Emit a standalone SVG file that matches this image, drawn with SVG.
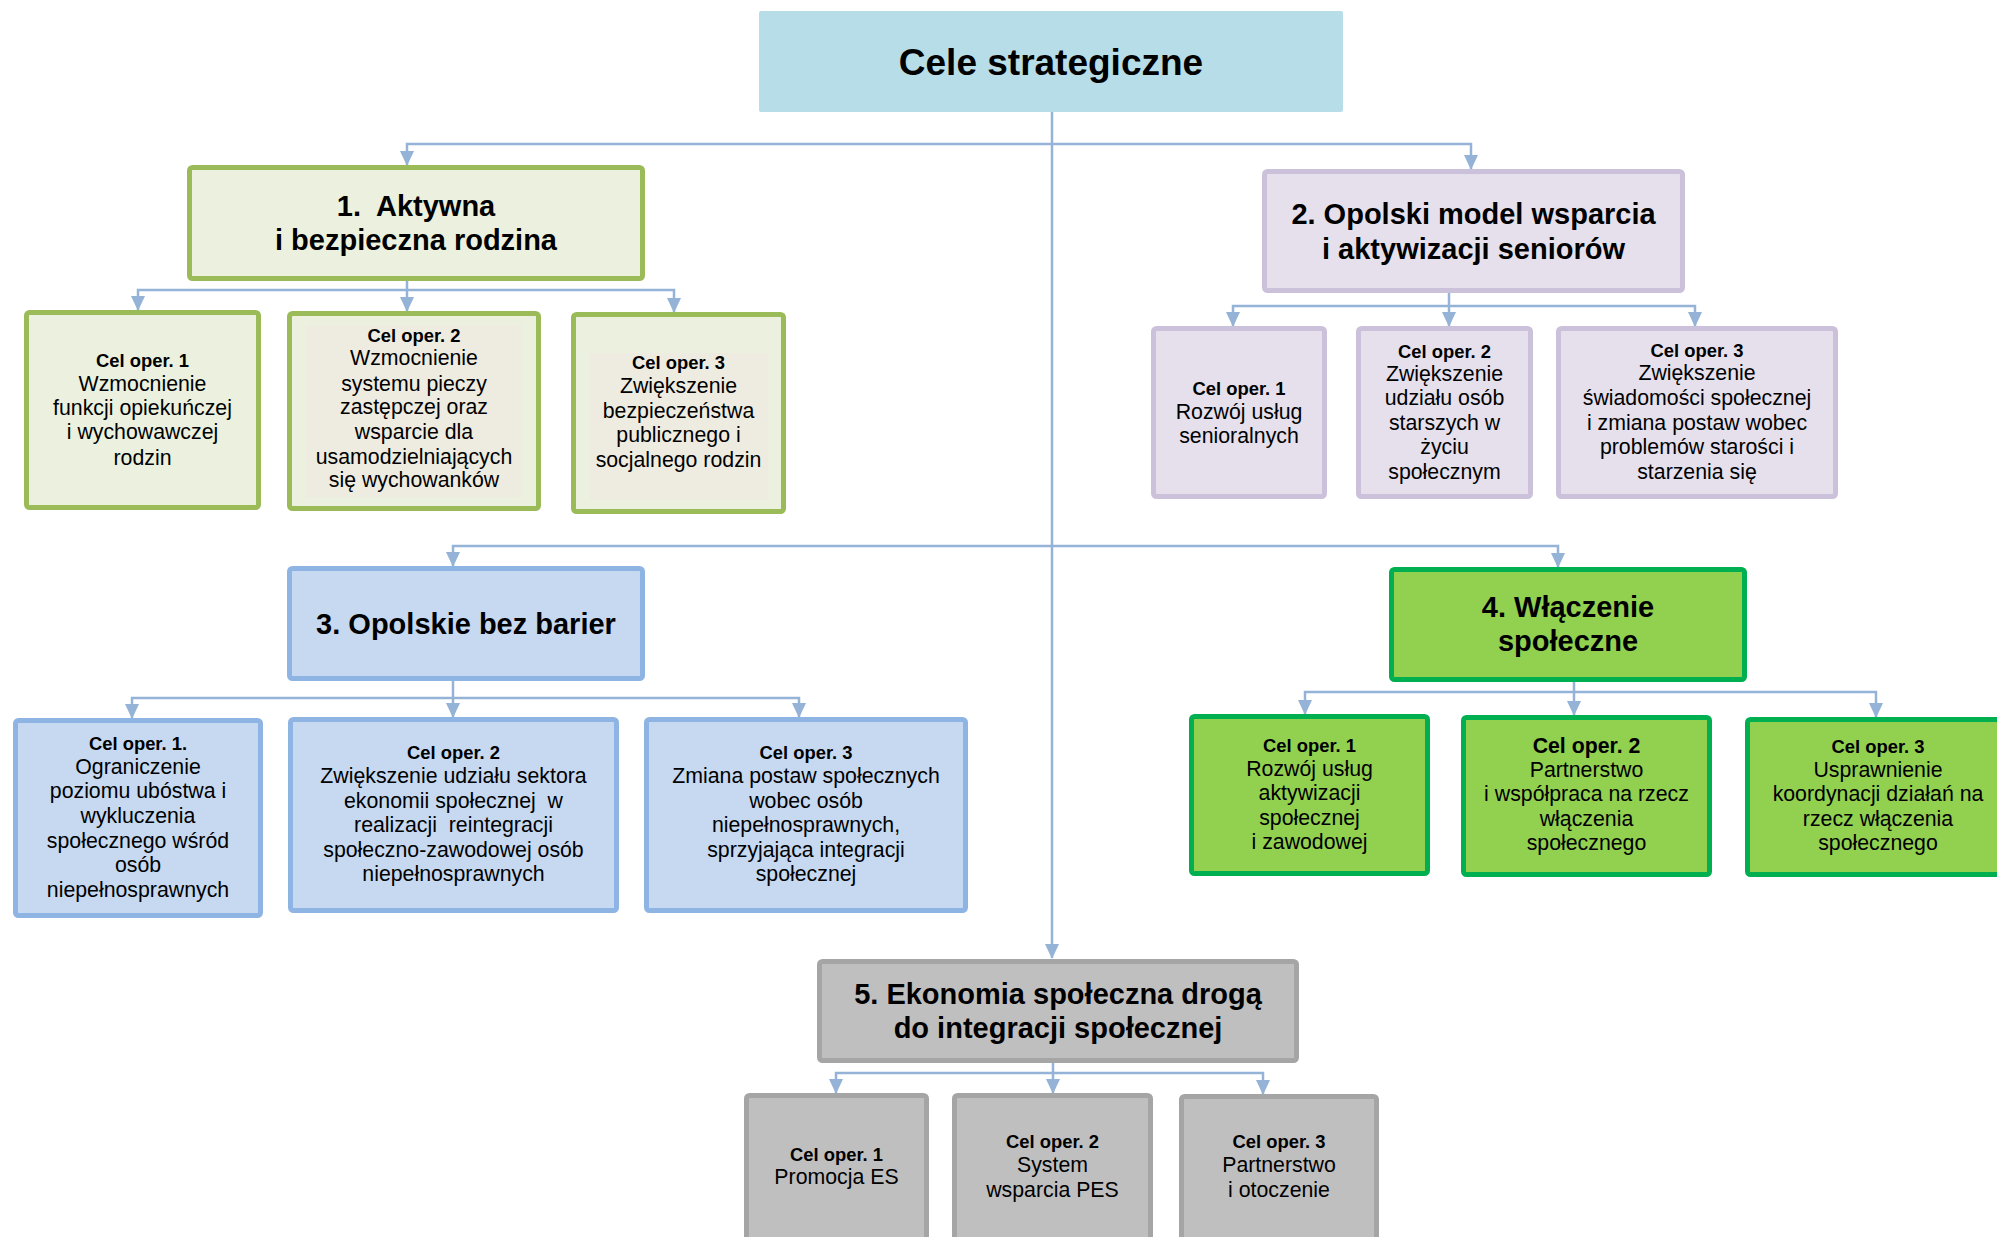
<svg xmlns="http://www.w3.org/2000/svg" width="1997" height="1237" viewBox="0 0 1997 1237">
<defs>
<style>
text{font-family:"Liberation Sans",Arial,sans-serif;fill:#000;text-anchor:middle}
.t0{font-size:37px;font-weight:bold}
.t1{font-size:29px;font-weight:bold}
.b{font-size:18.4px;font-weight:bold}
.bb{font-size:21.3px;font-weight:bold}
.r{font-size:21.3px}
.grn rect.o{fill:#ebf1de;stroke:#9bbb59;stroke-width:5}
.pur rect.o{fill:#e5e0ec;stroke:#ccc1da;stroke-width:5}
.blu rect.o{fill:#c6d9f1;stroke:#8eb4e3;stroke-width:5}
.lim rect.o{fill:#92d050;stroke:#00b050;stroke-width:5}
.gry rect.o{fill:#bfbfbf;stroke:#a5a5a5;stroke-width:5}
.inner{fill:#eeece1}
.c{fill:none;stroke:#95b3d7;stroke-width:2.5;marker-end:url(#ah)}
</style>
<marker id="ah" markerUnits="userSpaceOnUse" markerWidth="15" markerHeight="14" refX="14" refY="7" orient="auto" viewBox="0 0 15 14">
<path d="M0,0 L15,7 L0,14 z" fill="#95b3d7"/>
</marker>
</defs>

<g id="connectors">
<path class="c" d="M1052,112 V958"/>
<path class="c" d="M1052,144 H407 V165"/>
<path class="c" d="M1052,144 H1471 V169"/>
<path class="c" d="M1052,546 H453 V566"/>
<path class="c" d="M1052,546 H1558 V567"/>
<path class="c" d="M407,281 V311"/>
<path class="c" d="M407,290 H138 V310"/>
<path class="c" d="M407,290 H674 V312"/>
<path class="c" d="M1449,293 V326"/>
<path class="c" d="M1449,306 H1233 V326"/>
<path class="c" d="M1449,306 H1695 V326"/>
<path class="c" d="M453,681 V717"/>
<path class="c" d="M453,698 H132 V718"/>
<path class="c" d="M453,698 H799 V717"/>
<path class="c" d="M1574,682 V715"/>
<path class="c" d="M1574,692 H1305 V714"/>
<path class="c" d="M1574,692 H1876 V717"/>
<path class="c" d="M1053,1063 V1093"/>
<path class="c" d="M1053,1073 H836 V1093"/>
<path class="c" d="M1053,1073 H1263 V1094"/>
</g>

<g id="top">
<rect x="759" y="11" width="584" height="101" rx="2" fill="#b7dde8"/>
<text class="t0" x="1051" y="75">Cele strategiczne</text>
</g>

<g id="goal1" class="grn">
<rect class="o" x="189.5" y="167.5" width="453" height="111" rx="3"/>
<text class="t1"><tspan x="416" y="216">1.&#160; Aktywna</tspan><tspan x="416" y="250">i bezpieczna rodzina</tspan></text>
</g>
<g id="g1c1" class="grn">
<rect class="o" x="26.5" y="312.5" width="232" height="195" rx="3"/>
<text><tspan class="b" x="142.5" y="367">Cel oper. 1</tspan><tspan class="r" x="142.5" y="390.5">Wzmocnienie</tspan><tspan class="r" x="142.5" y="415">funkcji opiekuńczej</tspan><tspan class="r" x="142.5" y="439">i wychowawczej</tspan><tspan class="r" x="142.5" y="464.5">rodzin</tspan></text>
</g>
<g id="g1c2" class="grn">
<rect class="o" x="289.5" y="313.5" width="249" height="195" rx="3"/>
<rect class="inner" x="306" y="325.5" width="216" height="171.5"/>
<text><tspan class="b" x="414" y="342">Cel oper. 2</tspan><tspan class="r" x="414" y="365">Wzmocnienie</tspan><tspan class="r" x="414" y="390.5">systemu pieczy</tspan><tspan class="r" x="414" y="414">zastępczej oraz</tspan><tspan class="r" x="414" y="439">wsparcie dla</tspan><tspan class="r" x="414" y="463.5">usamodzielniających</tspan><tspan class="r" x="414" y="487">się wychowanków</tspan></text>
</g>
<g id="g1c3" class="grn">
<rect class="o" x="573.5" y="314.5" width="210" height="197" rx="3"/>
<rect class="inner" x="590" y="353" width="178" height="147"/>
<text><tspan class="b" x="678.5" y="369">Cel oper. 3</tspan><tspan class="r" x="678.5" y="392.5">Zwiększenie</tspan><tspan class="r" x="678.5" y="418">bezpieczeństwa</tspan><tspan class="r" x="678.5" y="442">publicznego i</tspan><tspan class="r" x="678.5" y="466.5">socjalnego rodzin</tspan></text>
</g>

<g id="goal2" class="pur">
<rect class="o" x="1264.5" y="171.5" width="418" height="119" rx="3"/>
<text class="t1"><tspan x="1473.5" y="224">2. Opolski model wsparcia</tspan><tspan x="1473.5" y="258.5">i aktywizacji seniorów</tspan></text>
</g>
<g id="g2c1" class="pur">
<rect class="o" x="1153.5" y="328.5" width="171" height="168" rx="3"/>
<text><tspan class="b" x="1239" y="394.5">Cel oper. 1</tspan><tspan class="r" x="1239" y="419">Rozwój usług</tspan><tspan class="r" x="1239" y="443">senioralnych</tspan></text>
</g>
<g id="g2c2" class="pur">
<rect class="o" x="1358.5" y="328.5" width="172" height="168" rx="3"/>
<text><tspan class="b" x="1444.5" y="358">Cel oper. 2</tspan><tspan class="r" x="1444.5" y="381">Zwiększenie</tspan><tspan class="r" x="1444.5" y="404.7">udziału osób</tspan><tspan class="r" x="1444.5" y="430">starszych w</tspan><tspan class="r" x="1444.5" y="454">życiu</tspan><tspan class="r" x="1444.5" y="478.7">społecznym</tspan></text>
</g>
<g id="g2c3" class="pur">
<rect class="o" x="1558.5" y="328.5" width="277" height="168" rx="3"/>
<text><tspan class="b" x="1697" y="357">Cel oper. 3</tspan><tspan class="r" x="1697" y="380">Zwiększenie</tspan><tspan class="r" x="1697" y="404.7">świadomości społecznej</tspan><tspan class="r" x="1697" y="430">i zmiana postaw wobec</tspan><tspan class="r" x="1697" y="454">problemów starości i</tspan><tspan class="r" x="1697" y="478.7">starzenia się</tspan></text>
</g>

<g id="goal3" class="blu">
<rect class="o" x="289.5" y="568.5" width="353" height="110" rx="3"/>
<text class="t1" x="466" y="634">3. Opolskie bez barier</text>
</g>
<g id="g3c1" class="blu">
<rect class="o" x="15.5" y="720.5" width="245" height="195" rx="3"/>
<text><tspan class="b" x="138" y="750">Cel oper. 1.</tspan><tspan class="r" x="138" y="774">Ograniczenie</tspan><tspan class="r" x="138" y="798">poziomu ubóstwa i</tspan><tspan class="r" x="138" y="823">wykluczenia</tspan><tspan class="r" x="138" y="848">społecznego wśród</tspan><tspan class="r" x="138" y="872">osób</tspan><tspan class="r" x="138" y="897">niepełnosprawnych</tspan></text>
</g>
<g id="g3c2" class="blu">
<rect class="o" x="290.5" y="719.5" width="326" height="191" rx="3"/>
<text xml:space="preserve"><tspan class="b" x="453.5" y="759">Cel oper. 2</tspan><tspan class="r" x="453.5" y="783">Zwiększenie udziału sektora</tspan><tspan class="r" x="453.5" y="808">ekonomii społecznej  w</tspan><tspan class="r" x="453.5" y="832">realizacji  reintegracji</tspan><tspan class="r" x="453.5" y="857">społeczno-zawodowej osób</tspan><tspan class="r" x="453.5" y="881">niepełnosprawnych</tspan></text>
</g>
<g id="g3c3" class="blu">
<rect class="o" x="646.5" y="719.5" width="319" height="191" rx="3"/>
<text><tspan class="b" x="806" y="759">Cel oper. 3</tspan><tspan class="r" x="806" y="783">Zmiana postaw społecznych</tspan><tspan class="r" x="806" y="808">wobec osób</tspan><tspan class="r" x="806" y="832">niepełnosprawnych,</tspan><tspan class="r" x="806" y="857">sprzyjająca integracji</tspan><tspan class="r" x="806" y="881">społecznej</tspan></text>
</g>

<g id="goal4" class="lim">
<rect class="o" x="1391.5" y="569.5" width="353" height="110" rx="3"/>
<text class="t1"><tspan x="1568" y="617">4. Włączenie</tspan><tspan x="1568" y="651">społeczne</tspan></text>
</g>
<g id="g4c1" class="lim">
<rect class="o" x="1191.5" y="716.5" width="236" height="157" rx="3"/>
<text><tspan class="b" x="1309.5" y="752">Cel oper. 1</tspan><tspan class="r" x="1309.5" y="776">Rozwój usług</tspan><tspan class="r" x="1309.5" y="800">aktywizacji</tspan><tspan class="r" x="1309.5" y="825">społecznej</tspan><tspan class="r" x="1309.5" y="849">i zawodowej</tspan></text>
</g>
<g id="g4c2" class="lim">
<rect class="o" x="1463.5" y="717.5" width="246" height="157" rx="3"/>
<text><tspan class="bb" x="1586.5" y="753">Cel oper. 2</tspan><tspan class="r" x="1586.5" y="777">Partnerstwo</tspan><tspan class="r" x="1586.5" y="801">i współpraca na rzecz</tspan><tspan class="r" x="1586.5" y="826">włączenia</tspan><tspan class="r" x="1586.5" y="850">społecznego</tspan></text>
</g>
<g id="g4c3" class="lim">
<rect class="o" x="1747.5" y="719.5" width="259" height="155" rx="3"/>
<text><tspan class="b" x="1878" y="753">Cel oper. 3</tspan><tspan class="r" x="1878" y="777">Usprawnienie</tspan><tspan class="r" x="1878" y="801">koordynacji działań na</tspan><tspan class="r" x="1878" y="826">rzecz włączenia</tspan><tspan class="r" x="1878" y="850">społecznego</tspan></text>
</g>

<g id="goal5" class="gry">
<rect class="o" x="819.5" y="961.5" width="477" height="99" rx="3"/>
<text class="t1"><tspan x="1058" y="1004">5. Ekonomia społeczna drogą</tspan><tspan x="1058" y="1038">do integracji społecznej</tspan></text>
</g>
<g id="g5c1" class="gry">
<rect class="o" x="746.5" y="1095.5" width="180" height="160" rx="3"/>
<text><tspan class="b" x="836.5" y="1161">Cel oper. 1</tspan><tspan class="r" x="836.5" y="1184">Promocja ES</tspan></text>
</g>
<g id="g5c2" class="gry">
<rect class="o" x="954.5" y="1095.5" width="196" height="160" rx="3"/>
<text><tspan class="b" x="1052.5" y="1148">Cel oper. 2</tspan><tspan class="r" x="1052.5" y="1172">System</tspan><tspan class="r" x="1052.5" y="1197">wsparcia PES</tspan></text>
</g>
<g id="g5c3" class="gry">
<rect class="o" x="1181.5" y="1096.5" width="195" height="160" rx="3"/>
<text><tspan class="b" x="1279" y="1148">Cel oper. 3</tspan><tspan class="r" x="1279" y="1172">Partnerstwo</tspan><tspan class="r" x="1279" y="1197">i otoczenie</tspan></text>
</g>
</svg>
